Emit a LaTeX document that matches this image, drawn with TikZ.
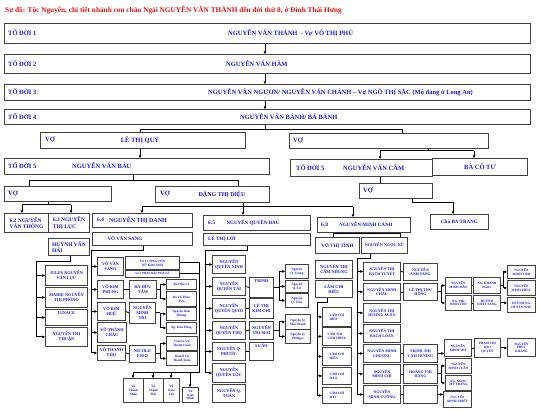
\documentclass[tikz,border=0pt]{standalone}
\usepackage{fontspec}
\setmainfont{Liberation Serif}
\usetikzlibrary{arrows.meta}
\definecolor{nblue}{RGB}{25,25,215}
\definecolor{tred}{RGB}{225,20,20}
\newcommand{\bx}[7][]{\node[box,anchor=north west,minimum width={#5-#3},minimum height={#6-#4},#1] (#2) at (#3,#4) {#7};}
\begin{document}
\begin{tikzpicture}[x=1pt,y=-1pt,
  fs/.style 2 args={font=\bfseries\fontsize{#1}{#2}\selectfont},
  box/.style={draw=black!75,line width=0.9pt,fill=white,inner sep=0pt,text=nblue,align=center,fs={4.3}{5}},
  sA/.style={fs={5.5}{6.2}}, sB/.style={fs={4.3}{5}}, sC/.style={fs={3.3}{3.9}},
  lbl/.style={inner sep=0pt,text=nblue,fs={6.5}{7}},
  con/.style={line width=1pt},
  arr/.style={con,-{Triangle[length=2.6pt,width=2.6pt]}},
  mar/.style={line width=0.8pt}]
\useasboundingbox (0,0) rectangle (550,412);
\node[anchor=west,inner sep=0pt,text=tred,fs={7.3}{8}] (title) at (5,10) {Sơ đồ: Tộc Nguyễn, chi tiết nhánh con cháu Ngài NGUYỄN VĂN THÀNH đến đời thứ 8, ở Đình Thái Hưng};
% generations 1-4
\bx{b1}{4}{23}{530}{43}{}
\node[lbl,anchor=west] (b1l) at (8,33) {TỔ ĐỜI 1};
\node[lbl,anchor=west] (b1n) at (228,33) {NGUYỄN VĂN THÀNH\ \ - \textit{Vợ} VÕ THỊ PHÚ};
\bx{b2}{4}{54}{530}{73}{}
\node[lbl,anchor=west] (b2l) at (8,63.5) {TỔ ĐỜI 2};
\node[lbl,anchor=west] (b2n) at (226,63.5) {NGUYỄN VĂN HÀM};
\bx{b3}{4}{84}{530}{100}{}
\node[lbl,anchor=west] (b3l) at (8,92) {TỔ ĐỜI 3};
\node[lbl,anchor=west] (b3n) at (208,92) {NGUYỄN VĂN NGƯƠN/ NGUYỄN VĂN CHÁNH – Vợ NGÔ THỊ SẮC (Mộ đang ở Long An)};
\bx{b4}{4}{109}{530}{124}{}
\node[lbl,anchor=west] (b4l) at (8,116.5) {TỔ ĐỜI 4};
\node[lbl,anchor=west] (b4n) at (240,116.5) {NGUYỄN VĂN BÁNH/ BÁ BÁNH};
% generation 5
\bx{quy}{40}{132}{245}{148}{}
\node[lbl,anchor=west] (quyl) at (45,140) {VỢ};
\node[lbl] (quyn) at (140,140) {LÊ THỊ QUÝ};
\bx{vr}{289}{133}{488}{148}{}
\node[lbl,anchor=west] (vrl) at (293,140.5) {VỢ};
\bx{bau}{4}{158}{269}{174}{}
\node[lbl,anchor=west] (baul) at (8,166) {TỔ ĐỜI 5};
\node[lbl,anchor=west] (baun) at (72,166) {NGUYỄN VĂN BÁU};
\bx{cam}{290}{159}{432}{176}{}
\node[lbl,anchor=west] (caml) at (296,167.5) {TỔ ĐỜI 5};
\node[lbl,anchor=west] (camn) at (343,167.5) {NGUYỄN VĂN CẦM};
\bx[fs={6.5}{7}]{bct}{432}{158}{527}{175}{BÀ CÔ TƯ}
\bx{vc}{359}{183}{432}{198}{}
\node[lbl,anchor=west] (vcl) at (363,190.5) {VỢ};
\bx[fs={5}{6}]{cbt}{430}{214}{488}{229}{Chú BA TRANG}
\bx{vl}{4}{186}{111}{201}{}
\node[lbl,anchor=west] (vll) at (8,193.5) {VỢ};
\bx{vd}{155}{186}{269}{202}{}
\node[lbl,anchor=west] (vdl) at (160,194) {VỢ};
\node[lbl,fs={6}{7}] (vdn) at (222,194) {ĐẶNG THỊ DIỆU};
% 6.2 / 6.3
\bx[sA,align=left]{c62}{4}{213}{48}{232}{6.2 NGUYỄN\\VĂN THÔNG}
\bx[sA,align=left]{c63}{48}{213}{89}{232}{6.3 NGUYỄN\\THỊ LỤC}
\bx[sA,align=left]{hai}{48}{238}{89}{255}{HUỲNH VĂN\\HẢI}
\bx{jul}{45}{265}{87}{285}{JULES NGUYỄN\\VĂN LỰC}
\bx{mar}{45}{287}{87}{307}{MARIE NGUYỄN\\THỊ PHÒNG}
\bx{ign}{45}{309}{87}{325}{IGNACE\\[3pt]\mbox{}}
\bx{thu}{45}{327}{87}{346}{NGUYỄN THỊ\\THUẬN}
% 6.4
\bx{c64}{92}{213}{192}{227}{}
\node[lbl,anchor=west,fs={5.5}{6}] (c64l) at (97,220) {6.4};
\node[lbl,fs={6}{7}] (c64n) at (138,220) {NGUYỄN THỊ DANH};
\bx{vvs}{92}{232}{192}{245}{}
\node[lbl,fs={5}{6}] (vvsn) at (125,238.5) {VÕ VĂN SANG};
\bx{s1}{97}{257}{123}{275}{VÕ VĂN\\SANG}
\bx[sC]{v1}{125}{256}{179}{269}{Vợ 1 CÔNG TÔN\\NỮ KIM ANH}
\bx[fs={3}{3.5}]{v2}{125}{270}{179}{277}{Vợ 2 PHAN BẮC PHA LÊ}
\bx{kph}{97}{280}{123}{298}{VÕ KIM\\PHỤNG}
\bx{bht}{129}{280}{156}{298}{BÁ HỮU\\TÂM}
\bx[sC]{bhl}{166}{279}{196}{289}{Bá Hữu Lễ}
\bx[sC]{bvt}{166}{291}{196}{306}{Bá Vũ Thủy\\Tiên}
\bx{kh}{97}{302}{125}{320}{VÕ KIM\\HUỆ}
\bx{nmt}{129}{302}{155}{323}{NGUYỄN\\MINH\\TRÍ}
\bx[sC]{nkh}{166}{307}{196}{320}{Nguyễn Kim\\Hương}
\bx[sC]{nkg}{166}{322}{196}{333}{Ng. Kim Hồng}
\bx{vtc}{97}{322}{126}{342}{VÕ THÀNH\\CHÂU}
\bx{vtt}{97}{345}{125}{360}{VÕ THÀNH\\THỌ}
\bx{nic}{129}{345}{155}{362}{NICOLE\\ESSO}
\bx[sC]{clv}{166}{336}{197}{350}{Clarisa Vũ\\Thành Luân}
\bx[sC]{dvt}{166}{351}{197}{365}{Daniel Vũ\\Thành Tuấn}
\bx[sC]{vn}{123}{378}{143}{402}{Vũ\\Thành\\Nhân}
\bx[sC]{vdt}{143}{378}{163}{402}{Vũ\\Thành\\Đạt}
\bx[sC]{vkc}{163}{378}{179}{402}{Vũ\\Kim\\Chi}
\bx[sC]{vkm}{182}{387}{198}{402}{Vũ\\Kim\\Minh}
% 6.5
\bx{c65}{203}{215}{310}{230}{}
\node[lbl,anchor=west,fs={5.5}{6}] (c65l) at (208,222.5) {6.5};
\node[lbl,fs={5}{6}] (c65n) at (253,222.5) {NGUYỄN QUYỀN BÀU};
\bx{lel}{203}{233}{310}{245}{}
\node[lbl,anchor=west,fs={5}{6}] (leln) at (208,239) {LÊ THỊ LỜI};
\bx{qn}{212}{255}{245}{273}{NGUYỄN\\QUYỀN NINH}
\bx{qt}{212}{277}{245}{295}{NGUYỄN\\QUYỀN TÀI}
\bx{qq}{212}{298}{245}{318}{NGUYỄN\\QUYỀN QUỚI}
\bx{qth}{212}{321}{245}{339}{NGUYỄN\\QUYỀN THỌ}
\bx{qp}{212}{342}{245}{360}{NGUYỄN Q.\\PHƯỚC}
\bx{ql}{212}{363}{245}{382}{NGUYỄN\\QUYỀN LỘC}
\bx{qto}{212}{384}{245}{402}{NGUYỄN Q.\\TOÀN}
\bx{tri}{249}{277}{273}{297}{TRINH\\[7pt]\mbox{}}
\bx{lkc}{249}{298}{273}{318}{LÊ THỊ\\KIM CHI}
\bx{ntm}{249}{321}{273}{339}{NGUYỄN\\THỊ MAI}
\bx{lua}{249}{342}{273}{360}{LUÂN\\[7pt]\mbox{}}
\bx[sC]{nqt}{285}{264}{308}{278}{Nguyễn\\Q. Trung}
\bx[sC]{nqr}{285}{280}{308}{292}{Nguyễn\\Q. Trí}
\bx[sC]{nqc}{285}{293}{308}{307}{Nguyễn\\Q. Trúc}
\bx[sC]{nqm}{285}{314}{310}{329}{Nguyễn Q.\\Mai Thanh}
\bx[sC]{nqp}{285}{329}{310}{343}{Nguyễn Q.\\Philippe}
% 6.8
\bx{c68}{317}{217}{410}{232}{}
\node[lbl,anchor=west,fs={5.5}{6}] (c68l) at (321,224.5) {6.8};
\node[lbl,fs={5}{6}] (c68n) at (366,224.5) {NGUYỄN MINH CẢNH};
\bx[fs={5}{6}]{tin}{315}{237}{359}{253}{VÕ THỊ TÍNH}
\bx[fs={4.2}{5}]{nnn}{361}{237}{407}{253}{NGUYỄN NGỌC NỮ}
\bx{ncn}{315}{260}{352}{278}{NGUYỄN THỊ\\CẨM NHUNG}
\bx{lch}{315}{280}{352}{297}{LÂM CHÍ\\HIẾU}
\bx[sC,align=left]{l1}{322}{307}{351}{326}{LÂM CHÍ\\HIỆP}
\bx[sC,align=left]{l2}{322}{327}{351}{345}{LÂM THỊ\\CẨM HỒNG}
\bx[sC,align=left]{l3}{322}{347}{351}{365}{LÂM CHÍ\\HIỀN}
\bx[sC,align=left]{l4}{322}{367}{351}{384}{LÂM CHÍ\\HẢO}
\bx[sC,align=left]{l5}{322}{387}{351}{403}{LÂM CHÍ\\HẢI}
\bx[fs={3.9}{4.6}]{m1}{363}{262}{400}{280}{NGUYỄN THỊ\\BẠCH TUYẾT}
\bx[fs={3.9}{4.6}]{m2}{363}{283}{400}{300}{NGUYỄN MINH\\CHÂU}
\bx[fs={3.9}{4.6}]{m3}{363}{303}{400}{322}{NGUYỄN THỊ\\HƯƠNG XUÂN}
\bx[fs={3.9}{4.6}]{m4}{363}{324}{400}{342}{NGUYỄN THỊ\\BẠCH LOAN}
\bx[fs={3.9}{4.6}]{m5}{363}{344}{400}{362}{NGUYỄN MINH\\CHƯƠNG}
\bx[fs={3.9}{4.6}]{m6}{363}{364}{400}{383}{NGUYỄN\\MINH CHÍ}
\bx[fs={3.9}{4.6}]{m7}{363}{385}{400}{403}{NGUYỄN\\MINH CƯỜNG}
\bx[fs={3.9}{4.6}]{sa1}{403}{263}{437}{280}{NGUYỄN\\ANH SANG}
\bx[fs={3.9}{4.6}]{sa2}{403}{283}{437}{300}{LÊ THỊ THU\\HỒNG}
\bx[fs={3.9}{4.6}]{sa5}{403}{344}{437}{362}{TRỊNH THỊ\\CẨM HƯỜNG}
\bx[fs={3.9}{4.6}]{sa6}{403}{364}{437}{383}{HOÀNG THỊ\\HẰNG}
\bx{sa7}{403}{385}{437}{403}{}
\bx[sC]{mm}{445}{277}{471}{293}{NGUYỄN\\MINH MẪN}
\bx[sC]{mt}{445}{295}{471}{310}{NG. THỊ\\MINH THƯ}
\bx[sC]{kn}{473}{277}{500}{293}{NG. KHÁNH\\NGỌC}
\bx[sC]{hns}{473}{295}{500}{310}{HUỲNH\\NHẬT SANG}
\bx[sC]{mta}{507}{265}{535}{278}{NGUYỄN\\MINH TÂM}
\bx[sC]{mph}{507}{280}{535}{295}{NGUYỄN\\MINH PHÚC}
\bx[sC]{hhn}{507}{297}{535}{312}{HUỲNH NG.\\HUYỀN NHƯ}
\bx[sC]{mth}{444}{339}{471}{356}{NGUYỄN\\MINH THI}
\bx[sC]{pbq}{474}{338}{500}{357}{PHẠM THỊ\\BẢO\\QUYÊN}
\bx[sC]{npk}{507}{338}{535}{356}{NGUYỄN\\PHÚC\\KHANG}
\bx[sC]{mtu}{445}{358}{471}{373}{NGUYỄN\\MINH TUẤN}
\bx[sC]{nmy}{445}{375}{471}{390}{NG. NGỌC\\MỸ TRANG}
\bx[sC]{mtr}{443}{391}{471}{407}{NGUYỄN\\MINH TRIẾT}
% ---------------- connectors
\draw[arr] (b1.south -| 265,0) -- (b2.north -| 265,0);
\draw[arr] (b2.south -| 265,0) -- (b3.north -| 265,0);
\draw[arr] (b3.south -| 265,0) -- (b4.north -| 265,0);
\draw[con] (b4.south -| 265,0) -- (265,130);
\draw[con] (quy.north -| 140,0) -- (140,130) -- (402,130) -- (vr.north -| 402,0);
\draw[arr] (quy.south -| 140,0) -- (bau.north -| 140,0);
\draw[con] (vr.south -| 428,0) -- (428,151);
\draw[con] (380,151) -- (474,151);
\draw[arr] (380,151) -- (cam.north -| 380,0);
\draw[arr] (474,151) -- (bct.north -| 474,0);
\draw[con] (cam.south -| 380,0) -- (vc.north -| 380,0);
\draw[arr] (vc.south -| 412,0) -- (412,203) -- (453,203) -- (cbt.north -| 453,0);
\draw[con] (bau.south -| 133,0) -- (133,181);
\draw[con] (vl.north -| 29,0) -- (29,181) -- (238,181) -- (vd.north -| 238,0);
\draw[con] (vl.south -| 48,0) -- (48,205);
\draw[con] (22,205) -- (71,205);
\draw[arr] (22,205) -- (c62.north -| 22,0);
\draw[arr] (71,205) -- (c63.north -| 71,0);
\draw[con] (vd.south -| 243,0) -- (243,207);
\draw[con] (142,207) -- (353,207);
\draw[arr] (142,207) -- (c64.north -| 142,0);
\draw[arr] (243,207) -- (c65.north -| 243,0);
\draw[arr] (353,207) -- (c68.north -| 353,0);
% Huynh Van Hai
\draw[con] (hai.south -| 70,0) -- (70,261) -- (36,261) -- (36,0 |- thu.west);
\foreach \n in {jul,mar,ign,thu} \draw[arr] (36,0 |- \n.west) -- (\n.west);
% 6.4
\draw[con] (vvs.south -| 143,0) -- (143,250) -- (91,250) -- (91,0 |- vtt.west);
\foreach \n in {s1,kph,kh,vtc,vtt} \draw[arr] (91,0 |- \n.west) -- (\n.west);
\draw[mar] (kph.east) -- (bht.west);
\draw[mar] (kh.east) -- (nmt.west);
\draw[mar] (vtt.east) -- (nic.west);
\draw[con] (bht.east) -- (160,0 |- bht.east);
\draw[con] (160,0 |- bhl.west) -- (160,0 |- bvt.west);
\draw[con] (nmt.east) -- (160,0 |- nmt.east);
\draw[con] (160,0 |- nkh.west) -- (160,0 |- nkg.west);
\draw[con] (nic.east) -- (160,0 |- nic.east);
\draw[con] (160,0 |- clv.west) -- (160,0 |- dvt.west);
\foreach \n in {bhl,bvt,nkh,nkg,clv,dvt} \draw[arr] (160,0 |- \n.west) -- (\n.west);
\draw[con] (v1.east) -- (199,0 |- v1.east) -- (199,372) -- (133,372);
\draw[con] (v2.east) -- (199,0 |- v2.east);
\draw[arr] (133,372) -- (vn.north -| 133,0);
\draw[arr] (153,372) -- (vdt.north -| 153,0);
\draw[arr] (171,372) -- (vkc.north -| 171,0);
\draw[arr] (190,372) -- (vkm.north -| 190,0);
% 6.5
\draw[con] (lel.south -| 247,0) -- (247,250) -- (205,250) -- (205,0 |- ql.west);
\foreach \n in {qn,qt,qq,qth,qp,ql} \draw[arr] (205,0 |- \n.west) -- (\n.west);
\draw[mar] (qt.east) -- (tri.west);
\draw[mar] (qq.east) -- (lkc.west);
\draw[mar] (qth.east) -- (ntm.west);
\draw[mar] (qp.east) -- (lua.west);
\draw[con] (tri.east) -- (279,0 |- tri.east);
\draw[con] (279,0 |- nqt.west) -- (279,0 |- nqc.west);
\draw[con] (ntm.east) -- (279,0 |- ntm.east);
\draw[con] (279,0 |- nqm.west) -- (279,0 |- nqp.west);
\foreach \n in {nqt,nqr,nqc,nqm,nqp} \draw[arr] (279,0 |- \n.west) -- (\n.west);
% 6.8
\draw[con] (c68.south -| 362,0) -- (362,234);
\draw[con] (tin.north -| 333,0) -- (333,234) -- (400,234) -- (nnn.north -| 400,0);
\draw[con] (lch.south -| 327,0) -- (327,302) -- (317,302) -- (317,0 |- l5.west);
\foreach \n in {l1,l2,l3,l4,l5} \draw[arr] (317,0 |- \n.west) -- (\n.west);
\draw[con] (nnn.south -| 370,0) -- (370,258) -- (357,258) -- (357,0 |- m7.west);
\foreach \n in {m1,m2,m3,m4,m5,m6,m7} \draw[arr] (357,0 |- \n.west) -- (\n.west);
\draw[mar] (m1.east) -- (sa1.west);
\draw[mar] (m2.east) -- (sa2.west);
\draw[mar] (m5.east) -- (sa5.west);
\draw[mar] (m6.east) -- (sa6.west);
\draw[mar] (m7.east) -- (sa7.west);
\draw[con] (sa2.east) -- (441,0 |- sa2.east);
\draw[con] (441,0 |- mm.west) -- (441,0 |- mt.west);
\draw[con] (sa6.east) -- (441,0 |- sa6.east);
\draw[con] (441,0 |- mtu.west) -- (441,0 |- nmy.west);
\foreach \n in {mm,mt,mtu,nmy} \draw[arr] (441,0 |- \n.west) -- (\n.west);
\draw[arr] (sa5.east) -- (mth.west |- sa5.east);
\draw[arr] (sa7.east) -- (mtr.west |- sa7.east);
\draw[mar] (mm.east) -- (kn.west);
\draw[mar] (mt.east) -- (hns.west);
\draw[mar] (mth.east) -- (pbq.west);
\draw[con] (kn.east) -- (503,0 |- kn.east);
\draw[con] (503,0 |- mta.west) -- (503,0 |- mph.west);
\foreach \n in {mta,mph} \draw[arr] (503,0 |- \n.west) -- (\n.west);
\draw[arr] (hns.east) -- (hhn.west |- hns.east);
\draw[arr] (pbq.east) -- (npk.west |- pbq.east);
\end{tikzpicture}
\end{document}
